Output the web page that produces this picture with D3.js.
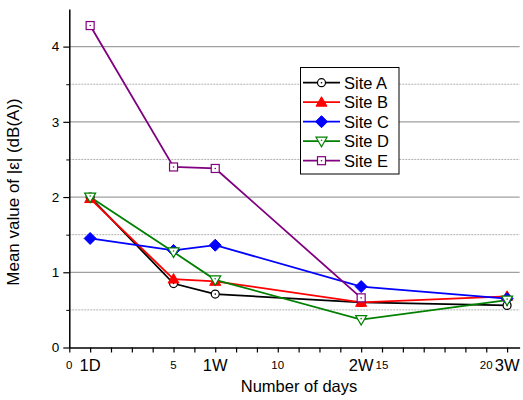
<!DOCTYPE html>
<html><head><meta charset="utf-8">
<script src="https://cdn.jsdelivr.net/npm/d3@7"></script>
<style>body{margin:0;background:#fff}svg{display:block;font-family:Arial,"Liberation Sans",sans-serif}</style>
</head><body>
<svg id="c" width="523" height="400"></svg>
<script>
const days = [1, 5, 7, 14, 21];
const siteA = [2.00, 0.85, 0.71, 0.60, 0.56];
const siteB = [1.98, 0.91, 0.88, 0.60, 0.68];
const siteC = [1.45, 1.29, 1.36, 0.81, 0.65];
const siteD = [2.00, 1.27, 0.90, 0.37, 0.63];
const siteE = [4.28, 2.40, 2.38, 0.66];
const seriesNames = ["Site A", "Site B", "Site C", "Site D", "Site E"];
const numTicks = [0, 5, 10, 15, 20];
const namedTickValues = [1, 7, 14, 21];
const namedTickLabels = ["1D", "1W", "2W", "3W"];
const yTicks = [0, 1, 2, 3, 4];
const yMinor = [0.5, 1.5, 2.5, 3.5];

const svg = d3.select("#c");
const x = d3.scaleLinear().domain([0, 21.6]).range([69.3, 519.6]);
const y = d3.scaleLinear().domain([0, 4.5]).range([347.5, 9]);

const styles = [
  {color:"#000000", shape:"circle"},
  {color:"#ff0000", shape:"tri"},
  {color:"#0000ff", shape:"diamond"},
  {color:"#008000", shape:"tridown"},
  {color:"#800080", shape:"square"}
];
const data = [siteA, siteB, siteC, siteD, siteE];

// gridlines
svg.append("g").selectAll("line").data(yMinor).join("line")
  .attr("x1", x(0)).attr("x2", x(21.6)).attr("y1", d=>y(d)).attr("y2", d=>y(d))
  .attr("stroke", "#b0b0b0").attr("stroke-width", 1).attr("stroke-dasharray", "2,1");
svg.append("g").selectAll("line").data(yTicks.slice(1)).join("line")
  .attr("x1", x(0)).attr("x2", x(21.6)).attr("y1", d=>y(d)).attr("y2", d=>y(d))
  .attr("stroke", "#a0a0a0").attr("stroke-width", 1.2);

// axes
const xa = svg.append("g").attr("transform", `translate(0,${y(0)})`)
  .call(d3.axisBottom(x).tickValues(d3.range(0, 22)).tickFormat("").tickSize(5).tickSizeOuter(0));
xa.select(".domain").attr("stroke-width", 1.5);
xa.selectAll(".tick line").attr("stroke-width", 1.2);
svg.append("g").selectAll("text").data(numTicks).join("text")
  .attr("x", d=>x(d)).attr("y", 369).attr("text-anchor", "middle")
  .attr("font-size", 11.5).attr("fill", "#000").text(d=>d);
svg.append("g").selectAll("text").data(namedTickValues).join("text")
  .attr("x", d=>x(d)).attr("y", 371).attr("text-anchor", "middle")
  .attr("font-size", 16.5).attr("fill", "#000").text((d,i)=>namedTickLabels[i]);

const ya = svg.append("g").attr("transform", `translate(${x(0)},0)`)
  .call(d3.axisLeft(y).tickValues(yTicks).tickFormat(d3.format("d")).tickSize(6).tickSizeOuter(0));
ya.select(".domain").attr("stroke-width", 1.5);
ya.selectAll(".tick line").attr("stroke-width", 1.2);
ya.selectAll(".tick text").attr("font-size", 13.5).attr("font-family", "Arial, Liberation Sans, sans-serif").attr("x", -10);
svg.append("g").attr("transform", `translate(${x(0)},0)`)
  .call(d3.axisLeft(y).tickValues(yMinor).tickFormat("").tickSize(3).tickSizeOuter(0))
  .call(g=>g.select(".domain").remove());

// titles
svg.append("text").attr("x", 299).attr("y", 392).attr("text-anchor", "middle")
  .attr("font-size", 16.5).text("Number of days");
svg.append("text").attr("transform", "translate(19,192) rotate(-90)").attr("text-anchor", "middle")
  .attr("font-size", 17).text("Mean value of |ε| (dB(A))");

function marker(g, st, cx, cy) {
  const c = st.color;
  if (st.shape === "circle") {
    g.append("circle").attr("cx", cx).attr("cy", cy).attr("r", 4).attr("fill", "#fff").attr("stroke", c).attr("stroke-width", 1.2);
    g.append("circle").attr("cx", cx).attr("cy", cy).attr("r", 0.8).attr("fill", c);
  } else if (st.shape === "tri") {
    g.append("path").attr("d", `M${cx},${cy-5.5}L${cx+5.5},${cy+4}L${cx-5.5},${cy+4}Z`).attr("fill", c).attr("stroke", c);
  } else if (st.shape === "diamond") {
    g.append("path").attr("d", `M${cx},${cy-6}L${cx+6},${cy}L${cx},${cy+6}L${cx-6},${cy}Z`).attr("fill", c).attr("stroke", c);
  } else if (st.shape === "tridown") {
    g.append("path").attr("d", `M${cx-5.5},${cy-4}L${cx+5.5},${cy-4}L${cx},${cy+5.5}Z`).attr("fill", "#fff").attr("stroke", c).attr("stroke-width", 1.2);
    g.append("circle").attr("cx", cx).attr("cy", cy-1).attr("r", 0.8).attr("fill", c);
  } else {
    g.append("rect").attr("x", cx-4).attr("y", cy-4).attr("width", 8).attr("height", 8).attr("fill", "#fff").attr("stroke", c).attr("stroke-width", 1.2);
    g.append("circle").attr("cx", cx).attr("cy", cy).attr("r", 0.8).attr("fill", c);
  }
}

const line = d3.line().x((d,i)=>x(days[i])).y(d=>y(d));
data.forEach((vals, k) => {
  svg.append("path").datum(vals).attr("d", line).attr("fill", "none")
    .attr("stroke", styles[k].color).attr("stroke-width", 1.8);
});
data.forEach((vals, k) => {
  const g = svg.append("g");
  vals.forEach((v, i) => marker(g, styles[k], x(days[i]), y(v)));
});

// legend
const lg = svg.append("g");
lg.append("rect").attr("x", 300.5).attr("y", 67.5).attr("width", 98.5).attr("height", 106.5)
  .attr("fill", "#fff").attr("stroke", "#000").attr("stroke-width", 1);
seriesNames.forEach((n, k) => {
  const yy = 82.7 + k * 19.5;
  const st = styles[k];
  lg.append("line").attr("x1", 303).attr("x2", 340).attr("y1", yy).attr("y2", yy)
    .attr("stroke", st.color).attr("stroke-width", 1.8);
  marker(lg, st, 321.5, yy);
  lg.append("text").attr("x", 344).attr("y", yy + 5.8).attr("font-size", 16.5).text(n);
});
</script>
</body></html>
